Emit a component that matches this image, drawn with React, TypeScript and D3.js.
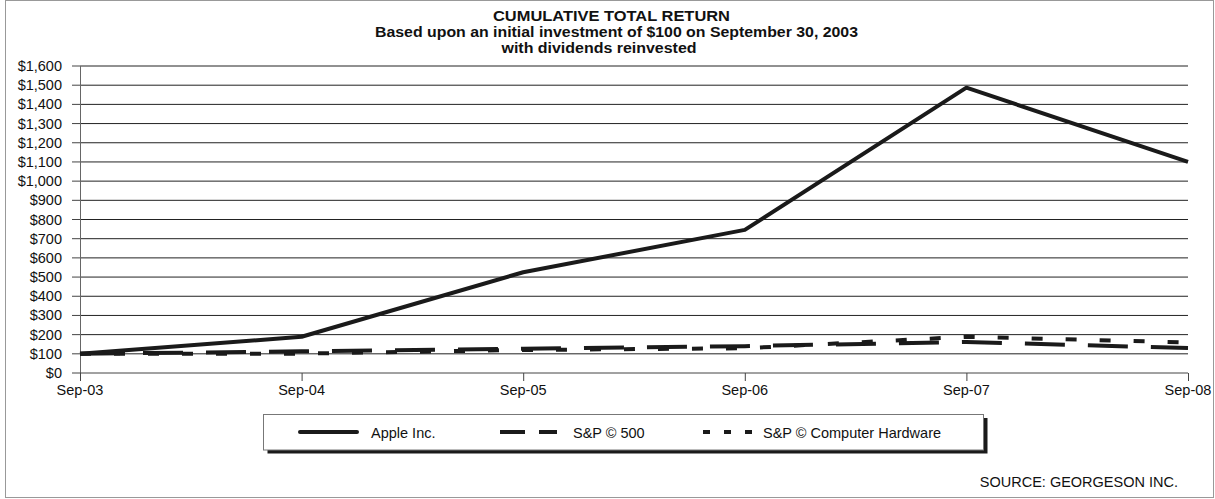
import React from 'react';
import * as d3 from 'd3';

// values
const years = ['Sep-03', 'Sep-04', 'Sep-05', 'Sep-06', 'Sep-07', 'Sep-08'];
const apple = [100, 189, 525, 746, 1487, 1100];
const sp500 = [100, 113, 127, 140, 162, 130];
const hardware = [100, 101, 120, 129, 189, 159];
const yTicks = [0, 100, 200, 300, 400, 500, 600, 700, 800, 900, 1000, 1100, 1200, 1300, 1400, 1500, 1600];

const series = [
    { name: 'Apple Inc.', values: apple, dash: null, legendDash: null },
    { name: 'S&P © 500', values: sp500, dash: '40,23', legendDash: '25,14' },
    { name: 'S&P © Computer Hardware', values: hardware, dash: '11,23', legendDash: '7,14' },
];

const W = 1215;
const H = 499;
const left = 80;
const right = 1188;
const top = 66;
const bottom = 373;
const font = '"Liberation Sans", Arial, sans-serif';

const App = () => {
    const x = d3.scalePoint().domain(years).range([left, right]);
    const y = d3.scaleLinear().domain([0, 1600]).range([bottom, top]);
    const money = d3.format('$,');

    const line = d3.line<number>()
        .x((d, i) => x(years[i]))
        .y((d) => y(d));

    // dashed ones under apple
    const order = [series[2], series[1], series[0]];

    const legendItems = [
        { s: series[0], x1: 300, x2: 357, tx: 371 },
        { s: series[1], x1: 500, x2: 557, tx: 573 },
        { s: series[2], x1: 703, x2: 752, tx: 763 },
    ];

    const titles = [
        { t: 'CUMULATIVE TOTAL RETURN', cx: 611.5, y: 20.5, w: 237 },
        { t: 'Based upon an initial investment of $100 on September 30, 2003', cx: 616.5, y: 36.5, w: 483 },
        { t: 'with dividends reinvested', cx: 599, y: 52.5, w: 195 },
    ];

    return (
        <svg width={W} height={H} style={{ position: 'absolute', left: 0, top: 0, background: '#fff' }}
            fontFamily={font}>
            <rect x={5.5} y={0.5} width={1208} height={497} fill="none" stroke="#999" />

            <g fontWeight="bold" fontSize={14} fill="#111">
                {titles.map((d) => (
                    <text key={d.t} x={d.cx - d.w / 2} y={d.y} textLength={d.w} lengthAdjust="spacingAndGlyphs">{d.t}</text>
                ))}
            </g>

            {yTicks.map((t) => (
                <g key={t}>
                    {t > 0 && (
                        <line x1={left} x2={right} y1={y(t)} y2={y(t)} stroke="#222" strokeWidth={1} />
                    )}
                    <line x1={72} x2={left} y1={y(t)} y2={y(t)} stroke="#444" />
                    <text x={62} y={y(t) + 5} fontSize={14.5} textAnchor="end" fill="#111">{money(t)}</text>
                </g>
            ))}

            <line x1={left + 0.5} x2={left + 0.5} y1={top} y2={bottom} stroke="#666" />
            <line x1={left} x2={right} y1={bottom} y2={bottom} stroke="#444" />
            {years.map((yr) => (
                <g key={yr}>
                    <line x1={x(yr) + 0.5} x2={x(yr) + 0.5} y1={bottom} y2={bottom + 8} stroke="#444" />
                    <text x={x(yr)} y={395} fontSize={14.5} textAnchor="middle" fill="#111">{yr}</text>
                </g>
            ))}

            {order.map((s) => (
                <path key={s.name} d={line(s.values) || ''} fill="none" stroke="#1a1a1a"
                    strokeWidth={4} strokeDasharray={s.dash || undefined} strokeLinejoin="round" />
            ))}

            <rect x={267.5} y={418} width={720} height={35.5} fill="#1a1a1a" />
            <rect x={263.5} y={414.5} width={720} height={35.5} fill="#fff" stroke="#777" />
            {legendItems.map((it) => (
                <g key={it.s.name}>
                    <line x1={it.x1} x2={it.x2} y1={432} y2={432} stroke="#1a1a1a" strokeWidth={4}
                        strokeLinecap={it.s.legendDash ? 'butt' : 'round'}
                        strokeDasharray={it.s.legendDash || undefined} />
                    <text x={it.tx} y={437.5} fontSize={14.5} fill="#111">{it.s.name}</text>
                </g>
            ))}

            <text x={1178} y={486.5} fontSize={14.5} textAnchor="end" fill="#111">SOURCE: GEORGESON INC.</text>
        </svg>
    );
};

export default App;
